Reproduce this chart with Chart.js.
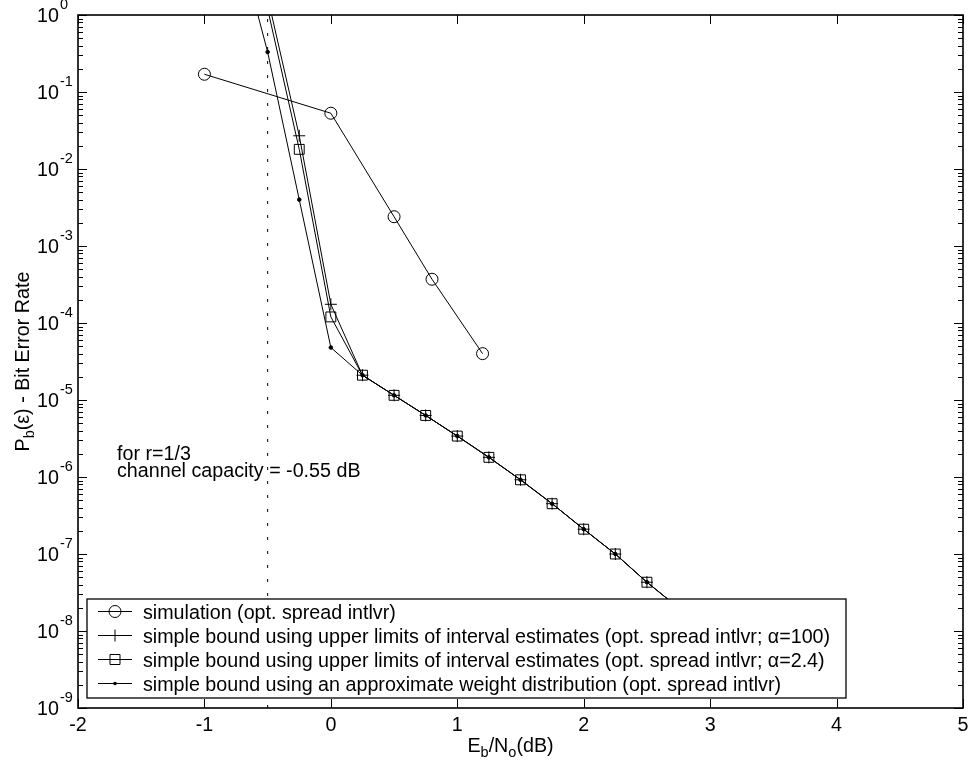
<!DOCTYPE html>
<html>
<head>
<meta charset="utf-8">
<script src="https://cdn.jsdelivr.net/npm/chart.js@4.4.0/dist/chart.umd.min.js"></script>
<style>
  html, body { margin: 0; padding: 0; background: #fff; }
  canvas { display: block; }
</style>
</head>
<body>
<canvas id="ber" width="971" height="769"></canvas>
<script>
// axis ticks
const xTicks = [-2, -1, 0, 1, 2, 3, 4, 5];
const yExps  = [0, -1, -2, -3, -4, -5, -6, -7, -8, -9];

// simulation (opt. spread intlvr)
const simX = [-1, 0, 0.5, 0.8, 1.2];
const simY = [0.17, 0.053, 0.0024, 0.00037, 0.00004];

// simple bounds, interval estimates (alpha=100 / alpha=2.4)
const boundX   = [-0.5, -0.25, 0, 0.25, 0.5, 0.75, 1.0, 1.25, 1.5, 1.75, 2.0, 2.25, 2.5, 2.75];
const alpha100 = [1.7, 0.027, 1.75e-4, 2.1e-5, 1.15e-5, 6.3e-6, 3.4e-6, 1.8e-6, 9.2e-7, 4.5e-7, 2.1e-7, 1.0e-7, 4.3e-8, 2.0e-8];
const alpha24  = [1.2, 0.018, 1.2e-4, 2.1e-5, 1.15e-5, 6.3e-6, 3.4e-6, 1.8e-6, 9.2e-7, 4.5e-7, 2.1e-7, 1.0e-7, 4.3e-8, 2.0e-8];

// simple bound, approximate weight distribution
const approxX = [-0.75, -0.5, -0.25, 0, 0.25, 0.5, 0.75, 1.0, 1.25, 1.5, 1.75, 2.0, 2.25, 2.5, 2.75];
const approxY = [12, 0.33, 0.004, 4.8e-5, 2.1e-5, 1.15e-5, 6.3e-6, 3.4e-6, 1.8e-6, 9.2e-7, 4.5e-7, 2.1e-7, 1.0e-7, 4.3e-8, 2.0e-8];

// channel capacity marker
const capX = [-0.5, -0.5];
const capY = [1e-9, 1];

const legendLabels = [
  'simulation (opt. spread intlvr)',
  'simple bound using upper limits of interval estimates (opt. spread intlvr; α=100)',
  'simple bound using upper limits of interval estimates (opt. spread intlvr; α=2.4)',
  'simple bound using an approximate weight distribution (opt. spread intlvr)'
];
const legendMarks = ['circle', 'cross', 'rect', 'dot'];
const noteLines = ['for r=1/3', 'channel capacity = -0.55 dB'];

const FONT = '"Liberation Sans", Arial, Helvetica, sans-serif';
const FS = 19.7, FSUB = 14.5;
const pts = (xs, ys) => xs.map((x, i) => ({ x, y: ys[i] }));

function richWidth(ctx, segs) {
  let w = 0;
  segs.forEach(s => { ctx.font = (s.sub ? FSUB : FS) + 'px ' + FONT; w += ctx.measureText(s.t).width; });
  return w;
}
function drawRich(ctx, segs, x, y) {
  segs.forEach(s => {
    ctx.font = (s.sub ? FSUB : FS) + 'px ' + FONT;
    ctx.fillText(s.t, x, y + (s.sub ? 5 : 0));
    x += ctx.measureText(s.t).width;
  });
}

function mark(ctx, kind, x, y) {
  ctx.beginPath();
  if (kind === 'circle') { ctx.arc(x, y, 6, 0, Math.PI * 2); ctx.stroke(); }
  else if (kind === 'cross') { ctx.moveTo(x - 6, y); ctx.lineTo(x + 6, y); ctx.moveTo(x, y - 6); ctx.lineTo(x, y + 6); ctx.stroke(); }
  else if (kind === 'rect') { ctx.rect(x - 5, y - 5, 10, 10); ctx.stroke(); }
  else { ctx.arc(x, y, 1.8, 0, Math.PI * 2); ctx.fill(); }
}

const matlabAxes = {
  id: 'matlabAxes',
  afterDraw(chart) {
    const { ctx, chartArea: a, scales: { x, y } } = chart;
    ctx.save();
    ctx.strokeStyle = '#000';
    ctx.fillStyle = '#000';

    // ticks
    ctx.lineWidth = 1;
    ctx.beginPath();
    xTicks.forEach(v => {
      const px = Math.round(x.getPixelForValue(v)) + 0.5;
      ctx.moveTo(px, a.bottom); ctx.lineTo(px, a.bottom - 9);
      ctx.moveTo(px, a.top); ctx.lineTo(px, a.top + 9);
    });
    yExps.forEach(e => {
      const py = Math.round(y.getPixelForValue(Math.pow(10, e))) + 0.5;
      ctx.moveTo(a.left, py); ctx.lineTo(a.left + 9, py);
      ctx.moveTo(a.right, py); ctx.lineTo(a.right - 9, py);
      if (e > -9) {
        for (let k = 2; k <= 9; k++) {
          const pm = Math.round(y.getPixelForValue(k * Math.pow(10, e - 1))) + 0.5;
          ctx.moveTo(a.left, pm); ctx.lineTo(a.left + 5, pm);
          ctx.moveTo(a.right, pm); ctx.lineTo(a.right - 5, pm);
        }
      }
    });
    ctx.stroke();

    // box
    ctx.lineWidth = 1.6;
    ctx.strokeRect(a.left, a.top, a.right - a.left, a.bottom - a.top);

    // tick labels
    ctx.textBaseline = 'alphabetic';
    ctx.font = FS + 'px ' + FONT;
    ctx.textAlign = 'center';
    xTicks.forEach(v => ctx.fillText(String(v), x.getPixelForValue(v), a.bottom + 23));
    yExps.forEach(e => {
      const py = y.getPixelForValue(Math.pow(10, e));
      ctx.font = FS + 'px ' + FONT; ctx.textAlign = 'right';
      ctx.fillText('10', a.left - 19, py + 7);
      ctx.font = FSUB + 'px ' + FONT; ctx.textAlign = 'left';
      ctx.fillText(String(e), a.left - 18, py - 6);
    });

    // axis titles
    ctx.textAlign = 'left';
    const xt = [{ t: 'E' }, { t: 'b', sub: 1 }, { t: '/N' }, { t: 'o', sub: 1 }, { t: '(dB)' }];
    drawRich(ctx, xt, (a.left + a.right) / 2 - 10 - richWidth(ctx, xt) / 2, a.bottom + 44);
    const yt = [{ t: 'P' }, { t: 'b', sub: 1 }, { t: '(ε) - Bit Error Rate' }];
    ctx.save();
    ctx.translate(29, (a.top + a.bottom) / 2);
    ctx.rotate(-Math.PI / 2);
    drawRich(ctx, yt, -richWidth(ctx, yt) / 2, 0);
    ctx.restore();

    // note
    ctx.font = FS + 'px ' + FONT;
    noteLines.forEach((t, i) => ctx.fillText(t, a.left + 39, 460 + i * 17));

    // legend
    const lx = 87, ly = 599, lw = 759, lh = 99;
    ctx.fillStyle = '#fff';
    ctx.fillRect(lx, ly, lw, lh);
    ctx.lineWidth = 1.3;
    ctx.strokeRect(lx, ly, lw, lh);
    ctx.fillStyle = '#000';
    ctx.lineWidth = 1;
    legendLabels.forEach((t, i) => {
      const cy = ly + 12.5 + i * 24;
      ctx.beginPath(); ctx.moveTo(98, cy); ctx.lineTo(132, cy); ctx.stroke();
      mark(ctx, legendMarks[i], 115, cy);
      ctx.font = FS + 'px ' + FONT;
      ctx.fillText(t, 143, cy + 7);
    });
    ctx.restore();
  }
};

const line = { borderColor: '#000', borderWidth: 1, tension: 0, pointBorderColor: '#000', pointBorderWidth: 1 };

new Chart(document.getElementById('ber'), {
  type: 'line',
  data: {
    datasets: [
      { ...line, data: pts(simX, simY), pointStyle: 'circle', pointRadius: 6, pointBackgroundColor: 'rgba(0,0,0,0)' },
      { ...line, data: pts(boundX, alpha100), pointStyle: 'cross', pointRadius: 6, pointBackgroundColor: 'rgba(0,0,0,0)' },
      { ...line, data: pts(boundX, alpha24), pointStyle: 'rect', pointRadius: 7, pointBackgroundColor: 'rgba(0,0,0,0)' },
      { ...line, data: pts(approxX, approxY), pointStyle: 'circle', pointRadius: 1.8, pointBackgroundColor: '#000' },
      { ...line, data: pts(capX, capY), pointRadius: 0, borderDash: [3, 11] }
    ]
  },
  options: {
    responsive: false,
    animation: false,
    devicePixelRatio: 1,
    layout: { padding: { left: 78, top: 15, right: 7, bottom: 61 } },
    plugins: { legend: { display: false }, tooltip: { enabled: false } },
    scales: {
      x: { type: 'linear', min: -2, max: 5, display: false },
      y: { type: 'logarithmic', min: 1e-9, max: 1, display: false }
    }
  },
  plugins: [matlabAxes]
});
</script>
</body>
</html>
